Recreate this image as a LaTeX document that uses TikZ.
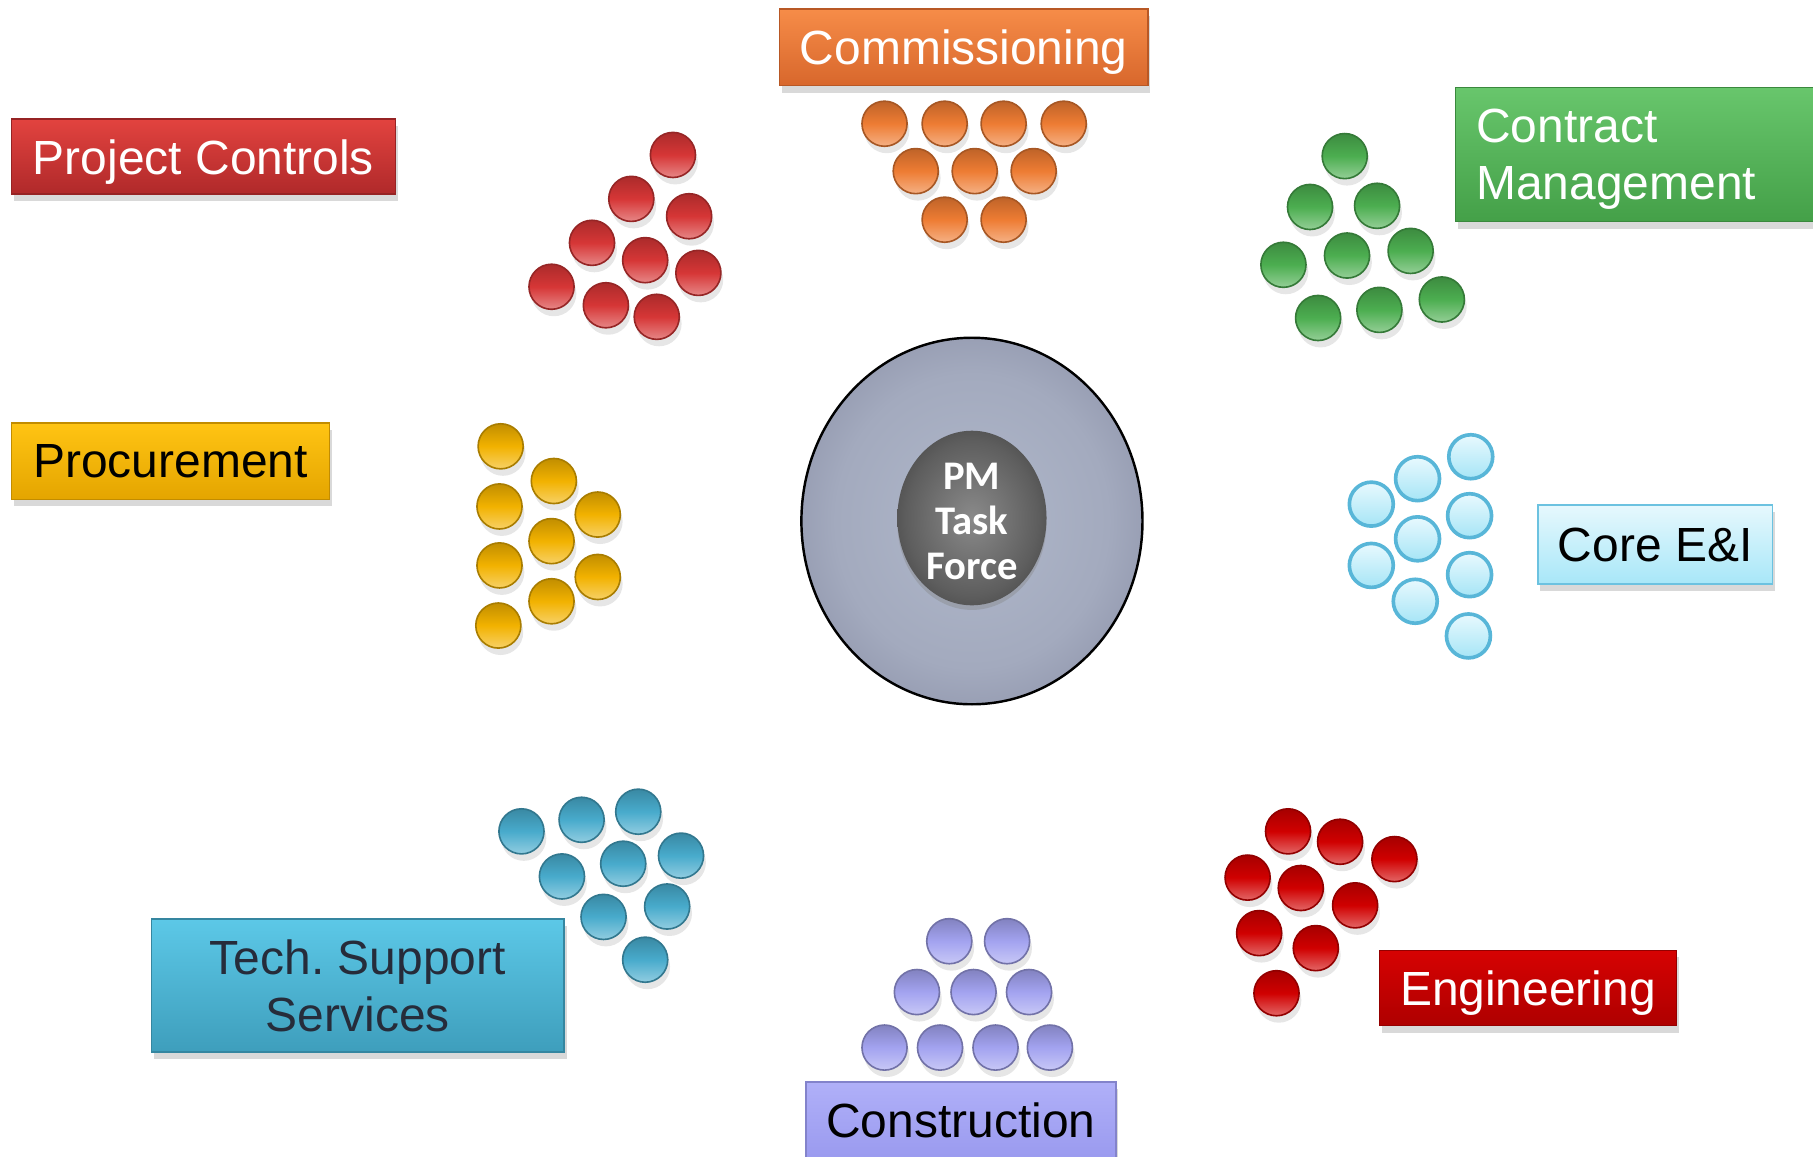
\documentclass[tikz,border=0pt]{standalone}
\usepackage{fontspec}
\setmainfont{Liberation Sans}
\newfontfamily\hubfont{Carlito}
\usetikzlibrary{shapes.geometric,shadows}

\definecolor{hubin}{HTML}{B0B8CA}
\definecolor{hubmid}{HTML}{A3AABE}
\definecolor{hubrim}{HTML}{9197AD}
\definecolor{hubout}{HTML}{767D92}
\definecolor{corein}{HTML}{8A8A8A}
\definecolor{coremid}{HTML}{5E5E5E}
\definecolor{coreout}{HTML}{3A3A3A}
\pgfdeclareradialshading{hubshade}{\pgfpoint{0bp}{0bp}}{color(0bp)=(hubin); color(20bp)=(hubmid); color(29bp)=(hubrim); color(35.4bp)=(hubout); color(50bp)=(hubout)}
\pgfdeclareradialshading{coreshade}{\pgfpoint{0bp}{0bp}}{color(0bp)=(corein); color(22bp)=(coremid); color(35.4bp)=(coreout); color(50bp)=(coreout)}

% balls
\definecolor{pcball}{HTML}{D63636}
\definecolor{cmball}{HTML}{EE7C33}
\definecolor{ctball}{HTML}{4CAE50}
\definecolor{eiring}{HTML}{58B6D8}
\definecolor{eitop}{HTML}{E8F9FE}
\definecolor{eibot}{HTML}{A6E5F6}
\definecolor{prball}{HTML}{F2B200}
\definecolor{tsball}{HTML}{48ABCC}
\definecolor{coball}{HTML}{A3A3F0}
\definecolor{enball}{HTML}{D00000}
% boxes
\definecolor{pctop}{HTML}{E2433F}\definecolor{pcbot}{HTML}{B0292A}
\definecolor{cmtop}{HTML}{F68C48}\definecolor{cmbot}{HTML}{D8672C}
\definecolor{cttop}{HTML}{68C66C}\definecolor{ctbot}{HTML}{44A048}
\definecolor{prtop}{HTML}{FFC413}\definecolor{prbot}{HTML}{E4A500}
\definecolor{eiboxtop}{HTML}{E6F8FD}\definecolor{eiboxbot}{HTML}{A8E7F8}\definecolor{eiline}{HTML}{6CC2E0}
\definecolor{tstop}{HTML}{5CC8E7}\definecolor{tsbot}{HTML}{3E9EBC}\definecolor{tstext}{HTML}{262C3A}
\definecolor{entop}{HTML}{D60202}\definecolor{enbot}{HTML}{AE0000}
\definecolor{cotop}{HTML}{B0B0F8}\definecolor{cobot}{HTML}{9A9AEF}

\begin{document}
\begin{tikzpicture}[x=0.1mm, y=-0.1mm,
  tag/.style 2 args={rectangle, inner sep=0pt, top color=#1, bottom color=#2, draw=#2!85!black, line width=0.4pt,
    font=\fontsize{11.8}{14.2}\selectfont,
    drop shadow={shadow xshift=0.2mm, shadow yshift=-0.6mm, opacity=0.3}},
  tagline/.style 2 args={tag={#1}{#2}, text depth=0pt},
  bead/.style={circle, inner sep=0pt, minimum size=3.9mm, draw=#1!70!black, line width=0.4pt,
    top color=#1!80!black, bottom color=#1!60!white, middle color=#1,
    drop shadow={shadow xshift=0.2mm, shadow yshift=-0.6mm, opacity=0.2}},
  ringbead/.style={circle, inner sep=0pt, minimum size=3.8mm, draw=eiring, line width=0.9pt,
    top color=eitop, bottom color=eibot},
  ]
\useasboundingbox (0,0) rectangle (1568,1000);

% centre
\node[ellipse, minimum width=29.5mm, minimum height=31.7mm, draw=black, line width=0.6pt, shading=hubshade] (hub) at (840.6,450.6) {};
\node[ellipse, inner sep=0pt, minimum width=12.9mm, minimum height=15.1mm, shading=coreshade,
  drop shadow={shadow xshift=0mm, shadow yshift=-0.4mm, opacity=0.35}] (core) at (840.6,448) {};
\node[text=white, align=center, inner sep=0pt, font=\hubfont\bfseries\fontsize{10}{11}\selectfont] (coretext) at ([yshift=-0.3mm]core.center) {PM\\Task\\Force};

% labels
\node[tagline={pctop}{pcbot}, text=white, minimum width=33.2mm, minimum height=6.5mm] (pc) at (176,135.5) {Project Controls};
\node[tagline={cmtop}{cmbot}, text=white, minimum width=31.9mm, minimum height=6.6mm] (cm) at (833.5,41) {Commissioning};
\node[tag={cttop}{ctbot}, text=white, anchor=north west, minimum height=11.6mm, text depth=14.3pt,
  text width=30.4mm, inner xsep=1.8mm, align=left] (ct) at (1258,75) {Contract\\Management};
\node[tagline={prtop}{prbot}, text=black, minimum width=27.5mm, minimum height=6.6mm] (pr) at (147.5,399) {Procurement};
\node[tagline={eiboxtop}{eiboxbot}, draw=eiline, text=black, minimum width=20.3mm, minimum height=6.8mm] (ei) at (1431.5,471) {Core E\&I};
\node[tag={tstop}{tsbot}, text=tstext, align=center, minimum width=35.7mm, minimum height=11.5mm] (ts) at (309.5,852.5) {Tech.\ Support\\Services};
\node[tagline={entop}{enbot}, text=white, minimum width=25.7mm, minimum height=6.5mm] (en) at (1321.5,854.5) {Engineering};
\node[tagline={cotop}{cobot}, text=black, anchor=north, minimum width=26.8mm, minimum height=6.6mm] (co) at (831,935) {Construction};

% teams
\foreach \x/\y [count=\i] in {582/134, 546/172, 596/187, 512/210, 558/225, 604/236, 477/248, 524/264, 568/274}
  \node[bead=pcball] (pc\i) at (\x,\y) {};
\foreach \x/\y [count=\i] in {765/107, 817/107, 868/107, 920/107, 792/148, 843/148, 894/148, 817/190, 868/190}
  \node[bead=cmball] (cm\i) at (\x,\y) {};
\foreach \x/\y [count=\i] in {1163/135, 1133/179, 1191/178, 1110/229, 1165/221, 1220/217, 1140/275, 1193/268, 1247/259}
  \node[bead=ctball] (ct\i) at (\x,\y) {};
\foreach \x/\y [count=\i] in {1272/395, 1226/414, 1186/436, 1271/446, 1226/466, 1186/489, 1271/497, 1224/520, 1270/550}
  \node[ringbead] (ei\i) at (\x,\y) {};
\foreach \x/\y [count=\i] in {433/386, 479/416, 432/438, 517/445, 477/468, 432/489, 517/499, 477/520, 431/541}
  \node[bead=prball] (pr\i) at (\x,\y) {};
\foreach \x/\y [count=\i] in {451/719, 503/709, 552/702, 486/758, 539/747, 589/740, 522/793, 577/784, 558/830}
  \node[bead=tsball] (ts\i) at (\x,\y) {};
\foreach \x/\y [count=\i] in {821/814, 871/814, 793/858, 842/858, 890/858, 765/906, 813/906, 861/906, 908/906}
  \node[bead=coball] (co\i) at (\x,\y) {};
\foreach \x/\y [count=\i] in {1114/719, 1159/728, 1206/743, 1079/759, 1125/768, 1172/783, 1089/807, 1138/820, 1104/859}
  \node[bead=enball] (en\i) at (\x,\y) {};
\end{tikzpicture}
\end{document}
